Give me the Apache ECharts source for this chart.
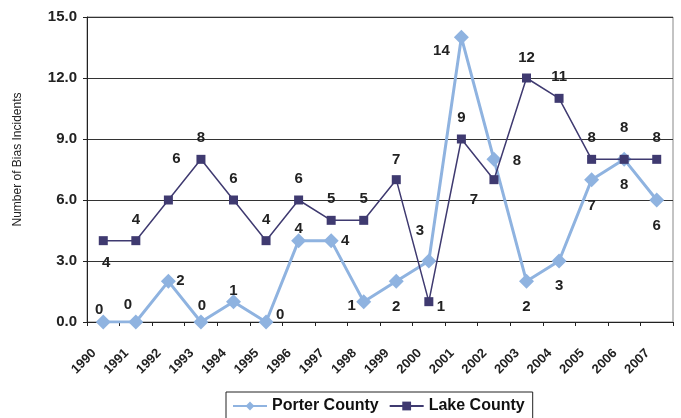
<!DOCTYPE html>
<html><head><meta charset="utf-8">
<script src="https://cdn.jsdelivr.net/npm/echarts@6/dist/echarts.min.js"></script>
<style>html,body{margin:0;padding:0;background:#fff}#c{width:681px;height:418px}</style>
</head><body><div id="c"></div>
<script>
const years = ['1990','1991','1992','1993','1994','1995','1996','1997','1998','1999','2000','2001','2002','2003','2004','2005','2006','2007'];
const porter = [0,0,2,0,1,0,4,4,1,2,3,14,8,2,3,7,8,6];
const lake = [4,4,6,8,6,4,6,5,5,7,1,9,7,12,11,8,8,8];
const yTicks = [0,3,6,9,12,15];

// label offsets (dx, dy) relative to each marker
const porterLabelOffsets = [[-4,-12],[-8,-17],[12,0],[1,-16],[0,-11],[14,-7],[0,-12],[14,0],[-12,4],[0,26],[-9,-30],[-20,14],[23,2],[0,26],[0,25],[0,26],[0,26],[0,26]];
const lakeLabelOffsets = [[3,22],[0,-21],[8,-41],[0,-21],[0,-21],[0,-21],[0,-21],[0,-21],[0,-21],[0,-20],[12,5],[0,-21],[-20,20],[0,-20],[0,-21],[0,-21],[0,-31],[0,-21]];

const FONT = '"Liberation Sans", Arial, sans-serif';
const labelStyle = {show:true, position:'inside', fontFamily:FONT, fontWeight:'bold', fontSize:15, color:'#222'};

function mk(vals, offs){
  return vals.map((v,i)=>({value:v, label:Object.assign({}, labelStyle, {offset:offs[i]})}));
}

const chart = echarts.init(document.getElementById('c'), null, {renderer:'canvas'});
chart.setOption({
  animation:false,
  backgroundColor:'#fff',
  grid:{left:87, right:8, top:17, bottom:96, show:true, borderColor:'#888', borderWidth:1, backgroundColor:'transparent'},
  xAxis:{
    type:'category', data:years, boundaryGap:true,
    axisLine:{lineStyle:{color:'#222', width:1}},
    axisTick:{show:true, length:4, lineStyle:{color:'#222'}},
    axisLabel:{rotate:45, fontFamily:FONT, fontWeight:'bold', fontSize:13, color:'#222', margin:20, interval:0, padding:[0,13,0,0]}
  },
  yAxis:{
    type:'value', min:0, max:15, interval:3,
    name:'Number of Bias Incidents', nameLocation:'middle', nameGap:63,
    nameTextStyle:{fontFamily:FONT, fontSize:12, color:'#222', padding:[0,0,0,20]},
    axisLine:{show:true, lineStyle:{color:'#222', width:1}},
    axisTick:{show:true, length:4, lineStyle:{color:'#222'}},
    axisLabel:{fontFamily:FONT, fontWeight:'bold', fontSize:15, color:'#222', margin:10,
      formatter:(v)=> yTicks.includes(v) ? v.toFixed(1) : ''},
    splitLine:{show:true, lineStyle:{color:'#333', width:1}}
  },
  legend:{
    left:226, top:392, padding:[6,8,6,6], itemGap:10, itemWidth:34, itemHeight:11,
    borderColor:'#222', borderWidth:1, backgroundColor:'#fff',
    textStyle:{fontFamily:FONT, fontWeight:'bold', fontSize:16, color:'#111'},
    data:['Porter County','Lake County']
  },
  series:[
    {name:'Porter County', type:'line', data:mk(porter, porterLabelOffsets),
      symbol:'diamond', symbolSize:15, z:3,
      lineStyle:{color:'#8FB3E0', width:3}, itemStyle:{color:'#8FB3E0'}},
    {name:'Lake County', type:'line', data:mk(lake, lakeLabelOffsets),
      symbol:'rect', symbolSize:9, z:4,
      lineStyle:{color:'#3F3A70', width:1.5}, itemStyle:{color:'#3F3A70'}}
  ]
});
</script></body></html>
